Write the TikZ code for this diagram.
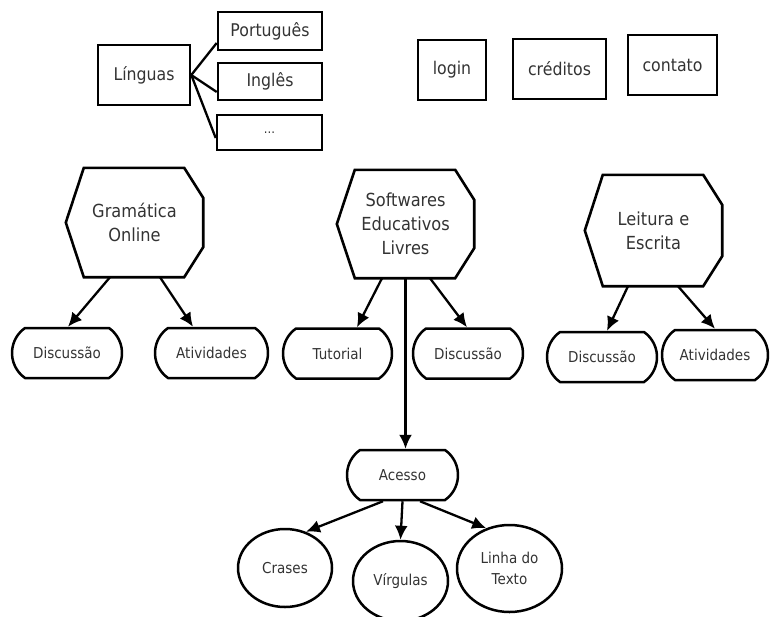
\documentclass[tikz,border=0pt]{standalone}
\usepackage{fontspec}
\setmainfont{DejaVu Sans}[FakeStretch=0.9]
\usetikzlibrary{shapes.geometric,shapes.misc,arrows.meta}
\newcommand\hexshape[1]{\draw[hexline] (#1.west) -- ([xshift=18pt]#1.north west) -- ([xshift=-19pt]#1.north east) -- ([yshift=-30pt]#1.north east) -- ([yshift=30pt]#1.south east) -- ([xshift=-19pt]#1.south east) -- ([xshift=18pt]#1.south west) -- cycle;}
\begin{document}
\begin{tikzpicture}[x=1pt,y=-1pt,
  rbox/.style={draw, line width=2.6pt, inner sep=0pt, text=black!80, font=\fontsize{17.5}{20}\selectfont},
  hexnode/.style={inner sep=0pt, align=center, text=black!80, font=\fontsize{18}{24}\selectfont, minimum width=137pt, minimum height=109pt},
  hexline/.style={line width=2.6pt, line join=miter},
  term/.style={rounded rectangle, rounded rectangle arc length=110, draw, line width=2.5pt, minimum height=50pt, inner sep=0pt, text=black!80, font=\fontsize{15}{17}\selectfont},
  oval/.style={ellipse, draw, line width=2.5pt, inner sep=0pt, align=center, text=black!80, font=\fontsize{15}{21}\selectfont},
  arr/.style={line width=2.3pt, -{Latex[length=14pt,width=13pt]}},
  link/.style={line width=2.3pt}]
\useasboundingbox (0,0) rectangle (770,616);

% top boxes
\node[rbox, minimum width=92pt, minimum height=60pt] (lin) at (144,75) {Línguas};
\node[rbox, minimum width=104pt, minimum height=38pt] (port) at (270,31) {Português};
\node[rbox, minimum width=104pt, minimum height=37pt] (ingl) at (270,81.5) {Inglês};
\node[rbox, minimum width=105pt, minimum height=35pt, font=\fontsize{13}{14}\selectfont] (dots) at (269.5,132.5) {...};
\node[rbox, minimum width=68pt, minimum height=60pt] (login) at (452,70) {login};
\node[rbox, minimum width=93pt, minimum height=60pt] (cred) at (559.5,69) {créditos};
\node[rbox, minimum width=89pt, minimum height=60pt] (cont) at (672.5,65) {contato};

\draw[link] (lin.east) -- ([yshift=-12pt]port.west);
\draw[link] (lin.east) -- ([yshift=-10.5pt]ingl.west);
\draw[link] (lin.east) -- ([yshift=-5.5pt]dots.west);

% hexagons
\node[hexnode] (gram) at (134.5,222.5) {Gramática\\Online};
\node[hexnode, minimum height=108pt] (soft) at (405.5,224) {Softwares\\Educativos\\Livres};
\node[hexnode, minimum height=111pt] (leit) at (653.5,230.5) {Leitura e\\Escrita};
\hexshape{gram}
\hexshape{soft}
\hexshape{leit}

% second row
\node[term, minimum width=110pt] (d1) at (67,353) {Discussão};
\node[term, minimum width=113pt] (a1) at (211.5,353) {Atividades};
\node[term, minimum width=109pt] (tut) at (337.5,353.5) {Tutorial};
\node[term, minimum width=110pt] (d2) at (468,353.5) {Discussão};
\node[term, minimum width=110pt] (d3) at (602,357) {Discussão};
\node[term, minimum width=106pt] (a3) at (715,355) {Atividades};

\draw[arr] ([xshift=-24.5pt]gram.south) -- ([xshift=1pt]d1.north);
\draw[arr] ([xshift=25.5pt]gram.south) -- ([xshift=-18.5pt]a1.north);
\draw[arr] ([xshift=-23.5pt]soft.south) -- ([xshift=19.5pt]tut.north);
\draw[arr] ([xshift=24.5pt]soft.south) -- ([xshift=-1pt]d2.north);
\draw[arr] ([xshift=-25.5pt]leit.south) -- ([xshift=5pt]d3.north);
\draw[arr] ([xshift=24.5pt]leit.south) -- (a3.north);

% Acesso
\node[term, minimum width=111pt] (ac) at (402.5,475) {Acesso};
\draw[arr] (soft.south) -- (soft.south |- ac.north);

\node[oval, minimum width=94pt, minimum height=78pt] (cr) at (285,568) {Crases};
\node[oval, minimum width=95pt, minimum height=80pt] (vg) at (400.5,581) {Vírgulas};
\node[oval, minimum width=105pt, minimum height=87pt] (ln) at (509.5,568.5) {Linha do\\Texto};

\draw[arr] ([xshift=-19.5pt]ac.south) -- (cr.60);
\draw[arr] (ac.south) -- (vg.north);
\draw[arr] ([xshift=17.5pt]ac.south) -- (ln.120);
\end{tikzpicture}
\end{document}
